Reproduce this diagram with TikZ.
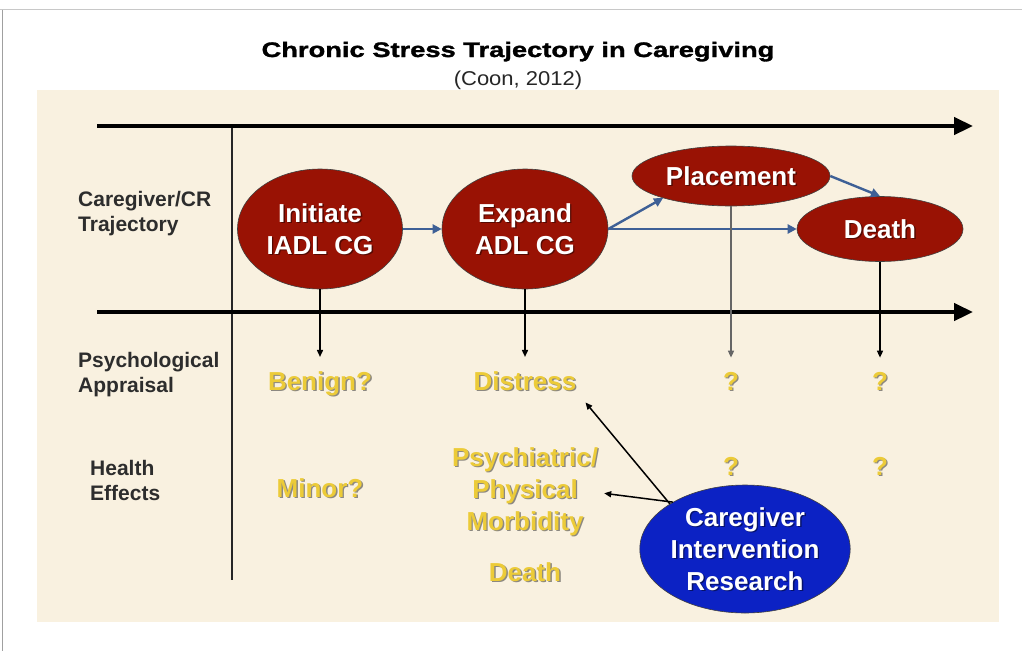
\documentclass[tikz,border=0pt]{standalone}
\usepackage{fontspec}
\setmainfont{Liberation Sans}
\newfontfamily\headfont[FakeStretch=1.3,FakeBold=1.5]{Liberation Sans Bold}
\newfontfamily\subheadfont[FakeStretch=1.1]{Liberation Sans}
\usetikzlibrary{shapes.geometric,arrows.meta}

\definecolor{paper}{RGB}{249,241,224}
\definecolor{stageRed}{RGB}{153,18,4}
\definecolor{studyBlue}{RGB}{12,34,196}
\definecolor{flowBlue}{RGB}{62,96,150}
\definecolor{outcomeGold}{RGB}{236,203,56}
\definecolor{rowInk}{RGB}{45,45,45}
\definecolor{frameGray}{RGB}{200,200,200}

\tikzset{
  bigtext/.style={font=\bfseries\fontsize{26}{32}\selectfont},
  stage/.style={ellipse, fill=stageRed, draw=black!75, line width=0.6pt,
    inner sep=0pt, text=white, align=center, bigtext},
  study/.style={stage, fill=studyBlue},
  outcome/.style={bigtext, text=outcomeGold, inner sep=0pt, align=center},
  rowlabel/.style={font=\bfseries\fontsize{21}{25}\selectfont, text=rowInk,
    inner sep=0pt, align=left, anchor=north west},
  timeline/.style={line width=4.5pt, -{Triangle[length=19pt,width=17pt]}},
  flow/.style={draw=flowBlue, line width=2.4pt,
    -{Triangle[length=9pt,width=9pt]}},
  drop/.style={line width=1.5pt, -{Triangle[length=7pt,width=6pt]}},
  reach/.style={line width=1.5pt, -{Triangle[length=7pt,width=6pt]}},
}

% white caption with a soft dark shadow inside a filled ellipse
\newcommand\stagenode[5]{% style, name, position, size, text
  \node[#1, #4, path picture={
      \node[bigtext, text=black, opacity=0.45, align=center]
        at ([shift={(1.4,1.4)}]path picture bounding box.center) {#5};
    }] (#2) at (#3) {#5};
}
% gold outcome text with a dark shadow
\newcommand\outcomenode[4]{% name, position, extra options, text
  \node[outcome, #3, text=black!80, opacity=0.55] at ([shift={(1.4,1.4)}]#2) {#4};
  \node[outcome, #3] (#1) at (#2) {#4};
}

\begin{document}
\begin{tikzpicture}[x=1pt, y=-1pt]
  \useasboundingbox (0,0) rectangle (1022,651);
  \fill[white] (0,0) rectangle (1022,651);
  % slide frame
  \draw[frameGray, line width=1pt] (0,9.5) -- (1022,9.5);
  \draw[frameGray!80!black, line width=1pt] (2.5,9.5) -- (2.5,651);
  % panel
  \fill[paper] (37,90) rectangle (999,622);

  % heading
  \node[font=\headfont\fontsize{21}{25}\selectfont, anchor=base, inner sep=0pt]
    (title) at (518,57) {Chronic Stress Trajectory in Caregiving};
  \node[font=\subheadfont\fontsize{20}{24}\selectfont, text=black!85,
    anchor=base, inner sep=0pt] (source) at (518,85) {(Coon, 2012)};

  % time axes and row divider
  \coordinate (topStart) at (97,126);
  \coordinate (topEnd) at (973,126);
  \coordinate (midStart) at (97,312);
  \coordinate (midEnd) at (973,312);
  \coordinate (divTop) at (232,127);
  \coordinate (divBottom) at (232,580);
  \draw[line width=2.2pt, black!85] (divTop) -- (divBottom);
  \draw[timeline] (topStart) -- (topEnd);
  \draw[timeline] (midStart) -- (midEnd);

  % row labels
  \node[rowlabel] (rowTrajectory) at (78,191) {Caregiver/CR\\Trajectory};
  \node[rowlabel] (rowAppraisal) at (78,352) {Psychological\\Appraisal};
  \node[rowlabel] (rowHealth) at (90,460) {Health\\Effects};

  % caregiving stages
  \stagenode{stage}{initiate}{320,229}{minimum width=165pt, minimum height=120pt}{Initiate\\IADL CG}
  \stagenode{stage}{expand}{525,229}{minimum width=166pt, minimum height=120pt}{Expand\\ADL CG}
  \stagenode{stage}{placement}{731,176}{minimum width=198pt, minimum height=60pt}{Placement}
  \stagenode{stage}{death}{880,229}{minimum width=166pt, minimum height=65pt}{Death}

  % transitions between stages
  \draw[flow] (initiate) -- (expand);
  \draw[flow] (expand.east) -- (placement.198);
  \draw[flow] (expand.east) -- (death.west);
  \draw[flow] (placement.east) -- (death.north);

  % appraisal row
  \outcomenode{benign}{320,390}{anchor=base}{Benign?}
  \outcomenode{distress}{525,390}{anchor=base}{Distress}
  \outcomenode{appraisalPlacement}{731,390}{anchor=base}{?}
  \outcomenode{appraisalDeath}{880,390}{anchor=base}{?}

  % health row
  \outcomenode{minor}{320,497}{anchor=base}{Minor?}
  \outcomenode{morbidity}{525,447}{anchor=north}{Psychiatric/\\Physical\\Morbidity}
  \outcomenode{mortality}{525,581}{anchor=base}{Death}
  \outcomenode{healthPlacement}{731,475}{anchor=base}{?}
  \outcomenode{healthDeath}{880,475}{anchor=base}{?}

  % stage to appraisal
  \draw[drop] (initiate.south) -- ([yshift=14pt]benign.north);
  \draw[drop] (expand.south) -- ([yshift=14pt]distress.north);
  \draw[drop, black!60] (placement.south) -- ([yshift=14pt]appraisalPlacement.north);
  \draw[drop] (death.south) -- ([yshift=14pt]appraisalDeath.north);

  % intervention research
  \stagenode{study}{research}{745,549}{minimum width=209pt, minimum height=128pt}{Caregiver\\Intervention\\Research}
  \draw[reach] (research.149) -- ([shift={(9,12)}]distress.south east);
  \draw[reach] (research.147) -- ([shift={(6,2)}]morbidity.east);
\end{tikzpicture}
\end{document}
